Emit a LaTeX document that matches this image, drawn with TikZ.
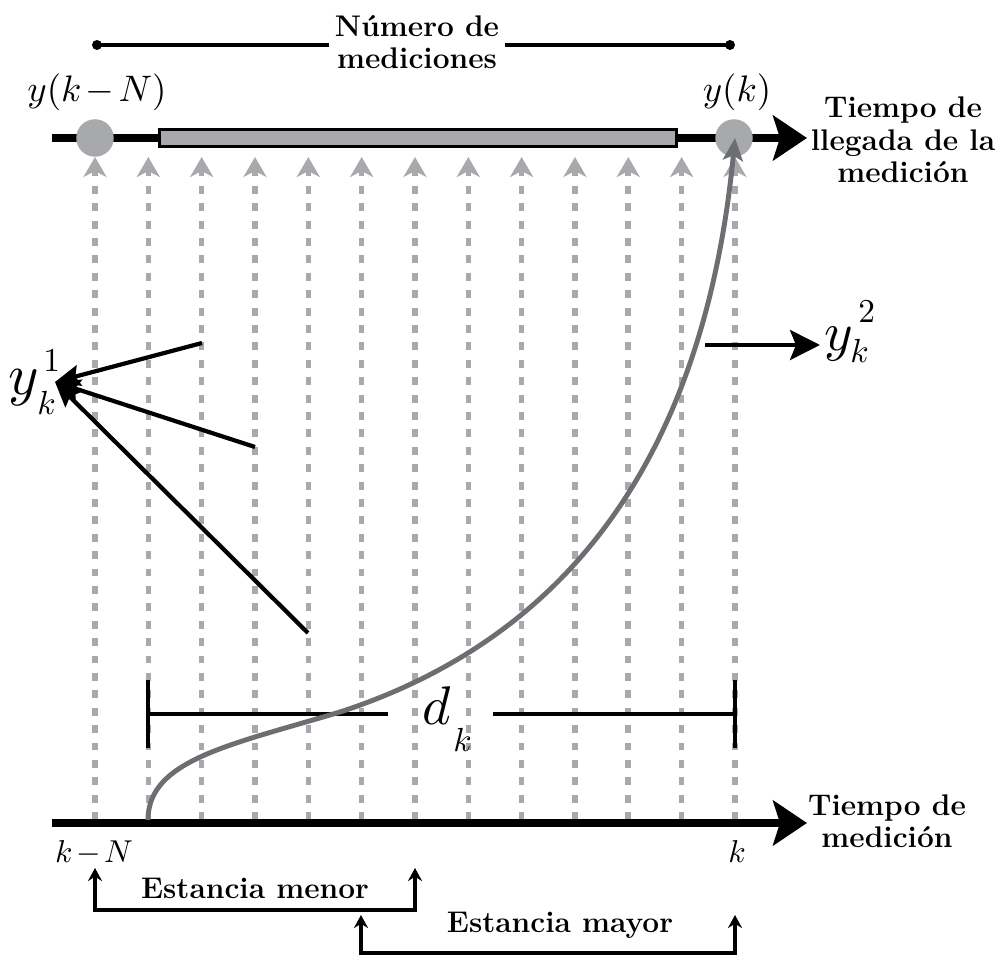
\documentclass[tikz,border=0pt]{standalone}
\usepackage{fontspec}
\usepackage{tikz}
\usetikzlibrary{arrows.meta,positioning,calc}
\definecolor{ltgray}{HTML}{A7A9AC}
\definecolor{dkgray}{HTML}{6D6E71}
\tikzstyle{axis}  =[line width=4.4pt, -{Stealth[length=0.68cm,width=0.9cm,inset=0.14cm]}]
\tikzstyle{dotarr}=[ltgray, line width=3.2pt, dash pattern=on 4.5pt off 5.4pt,
                    -{Stealth[length=0.4cm,width=0.46cm,inset=0.12cm]}]
\tikzstyle{blkarr}=[line width=2.4pt, -{Stealth[length=0.5cm,width=0.42cm,inset=0.08cm]}]
\tikzstyle{brk}   =[line width=2pt, {Stealth[length=0.26cm,width=0.28cm]}-{Stealth[length=0.26cm,width=0.28cm]}]
\tikzstyle{lbl}   =[font=\fontsize{17}{18.5}\selectfont\bfseries, align=center]
\tikzstyle{sym}   =[font=\fontsize{10}{10}\selectfont, inner sep=0, anchor=base west]
\newcommand{\sm}[2]{\scalebox{#1}{$#2$}}
\newcommand{\mn}{\mkern2mu{-}\mkern2mu}

\begin{document}
\begin{tikzpicture}[x=0.02cm, y=-0.02cm]
  \useasboundingbox (0,0) rectangle (1008,955);

  % sample instants
  \foreach \i in {0,...,12}{
    \coordinate (b\i) at ({95+\i*53.33}, 820);
    \coordinate (t\i) at ({95+\i*53.33}, 157);
  }
  \foreach \i in {0,...,12}
    \draw[dotarr] (b\i) -- (t\i);

  % time axes
  \coordinate (ta0) at (52,138);  \coordinate (ta1) at (807,138);
  \coordinate (ba0) at (52,823);  \coordinate (ba1) at (807,823);
  \draw[axis] (ta0) -- (ta1);
  \draw[axis] (ba0) -- (ba1);

  % window and measurements
  \node[draw, line width=1.7pt, fill=ltgray, minimum width=10.36cm, minimum height=0.34cm,
        inner sep=0] (win) at (418,138) {};
  \node[circle, fill=ltgray, minimum size=0.75cm, inner sep=0] (c0) at (95,138) {};
  \node[circle, fill=ltgray, minimum size=0.75cm, inner sep=0] (c1) at (734,138) {};
  \node[sym, anchor=base] (lyN) at (97,102) {\sm{2.1}{y(k\mn N)}};
  \node[sym, anchor=base] (lyk) at (737,102) {\sm{2.1}{y(k)}};

  % number of measurements
  \node[lbl] (num) at (417,42) {Número de\\mediciones};
  \coordinate (n0) at (97,45);  \coordinate (n1) at (730,45);
  \draw[line width=2pt] (n0) -- (n0 -| num.west);
  \draw[line width=2pt] (num.east |- n1) -- (n1);
  \fill (n0) circle (0.1cm);
  \fill (n1) circle (0.1cm);

  % axis labels
  \node[lbl] (arr) at (903,140) {Tiempo de\\llegada de la\\medición};
  \node[lbl] (med) at (887,821) {Tiempo de\\medición};
  \node[sym, anchor=base] (lkN) at (94,863) {\sm{1.8}{k\mn N}};
  \node[sym, anchor=base] (lk) at (737,863) {\sm{1.8}{k}};

  % delay d_k
  \node[sym] (dd) at (422,725) {\sm{3.1}{d}};
  \node[sym] (ddk) at (453,752) {\sm{1.9}{k}};
  \coordinate (d0) at (148,714);  \coordinate (dl) at (388,714);
  \coordinate (dr) at (493,714);  \coordinate (d1) at (735,714);
  \draw[line width=2.3pt] (d0) -- (dl);
  \draw[line width=2.3pt] (dr) -- (d1);
  \draw[line width=2.6pt] (d0) ++(0,-34) -- ++(0,68);
  \draw[line width=2.6pt] (d1) ++(0,-34) -- ++(0,68);

  % delayed measurement
  \coordinate (cs) at (148,820);  \coordinate (cm) at (340,712);  \coordinate (ce) at (735,138);
  \draw[dkgray, line width=2.8pt, -{Stealth[length=0.45cm,width=0.4cm,inset=0.1cm]}]
    (cs) .. controls (148,760) and (230,745) .. (cm) .. controls (530,650) and (700,500) .. (ce);

  % y_k^1
  \node[sym] (y1) at (8,395) {\sm{3.3}{y}};
  \node[sym] (y1k) at (37,415) {\sm{1.9}{k}};
  \node[sym] (y1s) at (43,372) {\sm{1.9}{1}};
  \coordinate (y1t) at (55,382);
  \coordinate (s1) at (202,343);  \coordinate (s2) at (255,447);  \coordinate (s3) at (308,633);
  \draw[blkarr] (s1) -- (y1t);
  \draw[blkarr] (s2) -- (y1t);
  \draw[blkarr] (s3) -- (y1t);

  % y_k^2
  \node[sym] (y2) at (824,351) {\sm{3.1}{y}};
  \node[sym] (y2k) at (850,363) {\sm{1.9}{k}};
  \node[sym] (y2s) at (858,323) {\sm{1.9}{2}};
  \coordinate (c2) at (705,345);  \coordinate (y2t) at (820,345);
  \draw[line width=2.4pt, -{Stealth[length=0.6cm,width=0.6cm,inset=0.12cm]}] (c2) -- (y2t);

  % residence
  \coordinate (m0) at (95,868);   \coordinate (m1) at (415,868);
  \coordinate (M0) at (361,915);  \coordinate (M1) at (735,915);
  \draw[brk] (m0) -- ++(0,42) -| (m1);
  \draw[brk] (M0) -- ++(0,38) -| (M1);
  \node[lbl] (emen) at (255,888) {Estancia menor};
  \node[lbl] (emay) at (560,925) {Estancia mayor};
\end{tikzpicture}
\end{document}
